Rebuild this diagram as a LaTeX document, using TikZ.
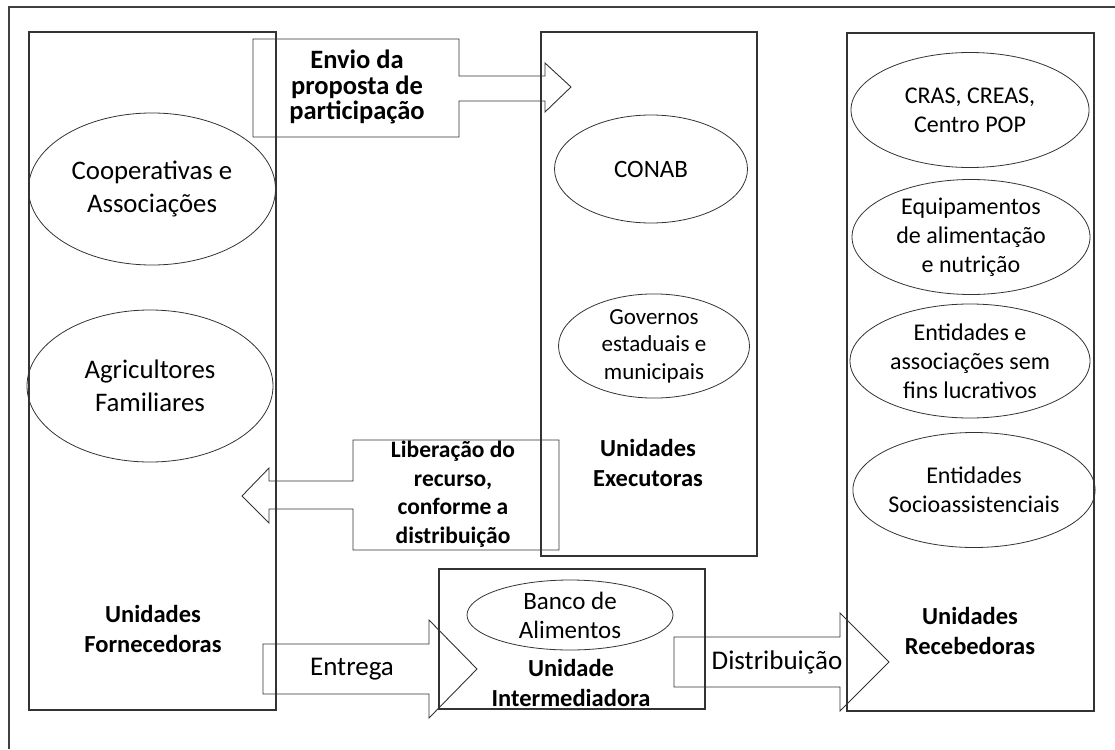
\documentclass[tikz,border=0pt]{standalone}
\usepackage{fontspec}
\setmainfont{Carlito}
\usetikzlibrary{shapes.geometric}

\tikzset{
  frame/.style={draw=black!75, line width=1.1pt},
  unitbox/.style={draw=black!80, line width=1.2pt, minimum width=#1, inner sep=0pt},
  ell/.style={draw=black!80, line width=0.8pt, ellipse, inner sep=0pt, align=center,
              font=\fontsize{24}{29}\selectfont},
  bigell/.style={ell, font=\fontsize{26.8}{33}\selectfont},
  title/.style={align=center, font=\fontsize{24.5}{30.5}\selectfont\bfseries},
  blockarrow/.style={draw=black!80, line width=0.9pt, line join=miter},
  arrowtext/.style={align=center, font=\fontsize{23.5}{28.5}\selectfont\bfseries},
  flowtext/.style={font=\fontsize{27}{30}\selectfont},
}

\begin{document}
\begin{tikzpicture}[x=1pt, y=-1pt]
\useasboundingbox (0,0) rectangle (1115,749);

% outer frame
\draw[frame] (9,749) -- (9,7) -- (1115,7);

% the four unit columns
\node[unitbox=247, minimum height=678] (forn) at (152.5,371) {};
\node[unitbox=216, minimum height=524] (exec) at (649,294) {};
\node[unitbox=247, minimum height=678] (rec) at (970.5,372) {};
\node[unitbox=266, minimum height=140] (inter) at (572,639) {};

% Unidades Fornecedoras
\node[bigell, minimum width=247, minimum height=152] (coop) at (152,189) {Cooperativas e\\Associações};
\node[bigell, minimum width=246, minimum height=152] (agri) at (150,386) {Agricultores\\Familiares};
\node[title] (fornlbl) at (153,629) {Unidades\\Fornecedoras};

% Unidades Executoras
\node[ell, minimum width=193, minimum height=108, font=\fontsize{25}{30}\selectfont] (conab) at (651,169) {CONAB};
\node[ell, minimum width=191, minimum height=99, font=\fontsize{23}{27.5}\selectfont] (gov) at (654,346) {Governos\\estaduais e\\municipais};
\node[title] (execlbl) at (648,463) {Unidades\\Executoras};

% Unidades Recebedoras
\node[ell, minimum width=238, minimum height=115] (cras) at (970,110) {CRAS, CREAS,\\Centro POP};
\node[ell, minimum width=238, minimum height=115] (equip) at (971,237) {Equipamentos\\de alimentação\\e nutrição};
\node[ell, minimum width=240, minimum height=114] (entid) at (970,361) {Entidades e\\associações sem\\fins lucrativos};
\node[ell, minimum width=237, minimum height=115] (socio) at (974,490) {Entidades\\Socioassistenciais};
\node[title] (reclbl) at (970,631) {Unidades\\Recebedoras};

% Unidade Intermediadora
\node[ell, minimum width=206, minimum height=70, font=\fontsize{25}{29}\selectfont] (banco) at (570,615) {Banco de\\Alimentos};
\node[title] (interlbl) at (571,683) {Unidade\\Intermediadora};

% Envio da proposta: callout pointing right
\draw[blockarrow] (253,39) -- (459,39) -- (459,76) -- (545,76) -- (545,63) -- (571,87)
  -- (545,112) -- (545,101) -- (459,101) -- (459,137) -- (253,137) -- cycle;
\node[arrowtext, font=\fontsize{26.5}{25.5}\selectfont\bfseries] (envio) at (357,87) {Envio da\\proposta de\\participação};

% Liberacao do recurso: callout pointing left
\draw[blockarrow] (559,440) -- (353,440) -- (353,481) -- (269,481) -- (269,468) -- (242,496)
  -- (269,523) -- (269,509) -- (353,509) -- (353,550) -- (559,550) -- cycle;
\node[arrowtext] (liber) at (453,494) {Liberação do\\recurso,\\conforme a\\distribuição};

% Entrega: block arrow into the intermediate unit
\draw[blockarrow] (263,644) -- (429,644) -- (429,620) -- (477,669) -- (429,718)
  -- (429,694) -- (263,694) -- cycle;
\node[flowtext] (entrega) at (352,669) {Entrega};

% Distribuicao: block arrow into the receiving units
\draw[blockarrow] (674,637) -- (840,637) -- (840,613) -- (889,662) -- (840,711)
  -- (840,687) -- (674,687) -- cycle;
\node[flowtext] (distr) at (777,662) {Distribuição};
\end{tikzpicture}
\end{document}
